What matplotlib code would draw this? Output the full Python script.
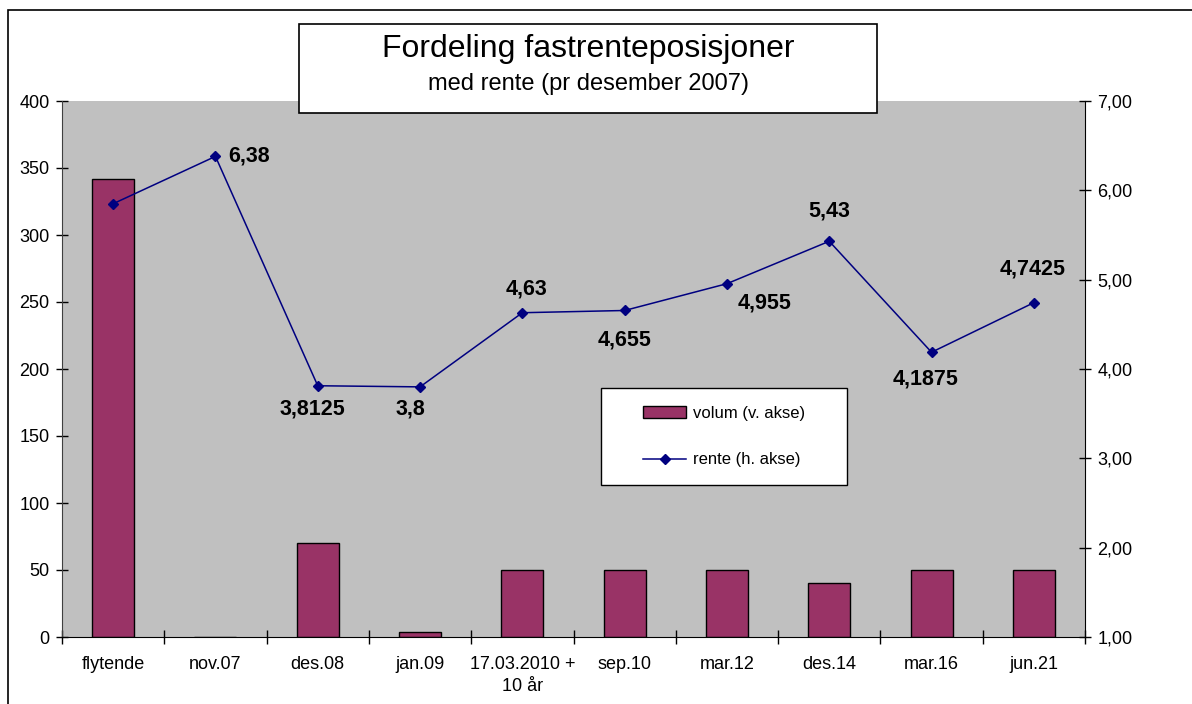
import matplotlib.pyplot as plt
from matplotlib.patches import Rectangle
from matplotlib.ticker import FuncFormatter
import numpy as np

plt.rcParams['font.family'] = ['Liberation Sans', 'DejaVu Sans']

categories = ['flytende', 'nov.07', 'des.08', 'jan.09', '17.03.2010 +\n10 år',
              'sep.10', 'mar.12', 'des.14', 'mar.16', 'jun.21']
volum = [342, 0, 70, 4, 50, 50, 50, 40, 50, 50]
rente = [5.85, 6.38, 3.8125, 3.8, 4.63, 4.655, 4.955, 5.43, 4.1875, 4.7425]
rente_labels = ['', '6,38', '3,8125', '3,8', '4,63', '4,655', '4,955', '5,43', '4,1875', '4,7425']
# label offsets in points (dx, dy) relative to each point
label_offsets = [(0, 0), (24, 0), (-4, -17), (-7, -16), (3, 17), (0, -21),
                 (27, -14), (0, 22), (-4, -19), (-1, 24)]

W, H = 1192, 704
fig = plt.figure(figsize=(W / 100, H / 100), dpi=100)

# outer chart frame (runs off the right and bottom edges)
fig.patches.append(Rectangle((8 / W, -0.1), 1.2, (H - 10) / H + 0.1,
                             transform=fig.transFigure, fill=False,
                             edgecolor='black', linewidth=1.2))

x0, x1, y0, y1 = 62, 1085, 101, 637
ax = fig.add_axes([x0 / W, (H - y1) / H, (x1 - x0) / W, (y1 - y0) / H])
ax.set_facecolor('#C0C0C0')

x = np.arange(len(categories))
ax.bar(x, volum, width=0.41, color='#993366', edgecolor='black', linewidth=1,
       label='volum (v. akse)', zorder=2)
ax.set_xlim(-0.5, len(categories) - 0.5)
ax.set_ylim(0, 400)
ax.set_yticks(np.arange(0, 401, 50))
ax.set_xticks(np.arange(-0.5, len(categories), 1))
ax.set_xticklabels([])
ax.set_xticks(x, minor=True)
ax.set_xticklabels(categories, minor=True, fontsize=13, linespacing=1.35)
ax.tick_params(axis='x', which='major', direction='inout', length=10, width=1)
ax.tick_params(axis='x', which='minor', length=0, pad=14)
ax.tick_params(axis='y', direction='inout', length=8, width=1, labelsize=13, pad=5)
ax.spines['top'].set_visible(False)
ax.spines['right'].set_visible(False)
ax.spines['left'].set_color('#404040')

ax2 = ax.twinx()
ax2.plot(x, rente, color='#000080', linewidth=1.1, marker='D', markersize=5.5,
         label='rente (h. akse)', zorder=3)
ax2.set_ylim(1, 7)
ax2.set_yticks(np.arange(1, 7.01, 1))
ax2.yaxis.set_major_formatter(FuncFormatter(lambda v, p: f'{v:.2f}'.replace('.', ',')))
ax2.tick_params(axis='y', direction='inout', length=8, width=1, labelsize=13, pad=5)
ax2.spines['top'].set_visible(False)
ax2.spines['left'].set_visible(False)
ax2.spines['bottom'].set_visible(False)

for xi, yi, lab, off in zip(x, rente, rente_labels, label_offsets):
    if lab:
        ax2.annotate(lab, (xi, yi), xytext=off, textcoords='offset points',
                     ha='center', va='center', fontsize=15.5, fontweight='bold')

# legend box
lx0, lx1, ly0, ly1 = 601, 847, 388, 485
lbox = ((lx0 - x0) / (x1 - x0), (y1 - ly1) / (y1 - y0),
        (lx1 - lx0) / (x1 - x0), (ly1 - ly0) / (y1 - y0))
ax2.add_patch(Rectangle(lbox[:2], lbox[2], lbox[3], transform=ax2.transAxes,
                        facecolor='white', edgecolor='black', linewidth=1, zorder=4))
h1, l1 = ax.get_legend_handles_labels()
h2, l2 = ax2.get_legend_handles_labels()
leg = ax2.legend(h1 + h2, l1 + l2, loc='center', bbox_to_anchor=lbox,
                 frameon=False, fontsize=12, labelspacing=1.9, handlelength=2.6,
                 handleheight=0.7, handletextpad=0.4, borderaxespad=0)
leg.set_zorder(5)

# title box
bx0, bx1, by0, by1 = 299, 877, 24, 113
fig.patches.append(Rectangle((bx0 / W, (H - by1) / H), (bx1 - bx0) / W, (by1 - by0) / H,
                             transform=fig.transFigure, facecolor='white',
                             edgecolor='black', linewidth=1.2, zorder=10))
fig.text((bx0 + bx1) / 2 / W, (H - 49) / H, 'Fordeling fastrenteposisjoner',
         ha='center', va='center', fontsize=23, zorder=11)
fig.text((bx0 + bx1) / 2 / W, (H - 84) / H, 'med rente (pr desember 2007)',
         ha='center', va='center', fontsize=17, zorder=11)

fig.savefig('out.png', dpi=100)
